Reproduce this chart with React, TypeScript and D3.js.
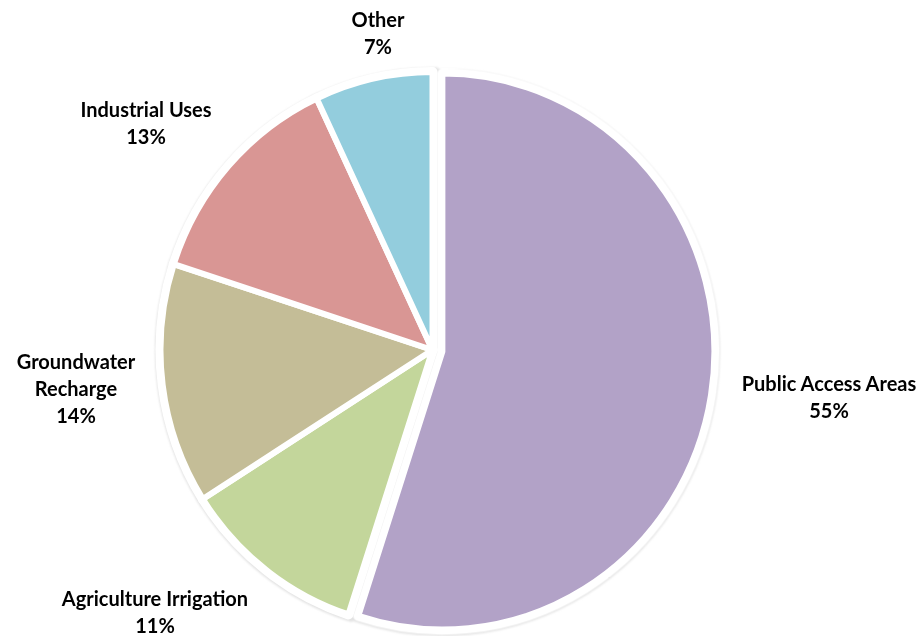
import React from "react";
import * as d3 from "d3";

const categories = ["Public Access Areas", "Agriculture Irrigation", "Groundwater Recharge", "Industrial Uses", "Other"];
const values = [55, 11, 14, 13, 7];
const colors = ["#B2A2C7", "#C3D69B", "#C4BD97", "#D99694", "#93CDDD"];
const exploded = [10, 0, 0, 0, 0];

// label lines and positions (center x, first baseline y)
const labelLines = [
  ["Public Access Areas", "55%"],
  ["Agriculture Irrigation", "11%"],
  ["Groundwater", "Recharge", "14%"],
  ["Industrial Uses", "13%"],
  ["Other", "7%"],
];
const labelPos = [
  [829, 391],
  [155, 606],
  [76, 369],
  [146, 117],
  [378, 27],
];

const W = 924;
const H = 636;
const cx = 432.5;
const cy = 350;
const rx = 272;
const ry = 278;

export default function App() {
  const pie = d3.pie<number>().sort(null).value((d) => d)(values);
  const arc = d3.arc<d3.PieArcDatum<number>>().innerRadius(0).outerRadius(rx);
  const sy = ry / rx;
  const slices = pie.map((p, i) => {
    const mid = (p.startAngle + p.endAngle) / 2;
    const dx = Math.sin(mid) * exploded[i];
    const dy = -Math.cos(mid) * exploded[i];
    return {
      d: arc(p) as string,
      t: `translate(${cx + dx},${cy + dy}) scale(1,${sy})`,
      color: colors[i],
      name: categories[i],
    };
  });
  return (
    <svg width={W} height={H} style={{ position: "absolute", left: 0, top: 0, background: "#fff" }}>
      <defs>
        <filter id="sh" x="-10%" y="-10%" width="120%" height="120%">
          <feGaussianBlur stdDeviation="1.2" />
        </filter>
      </defs>
      <g filter="url(#sh)" transform="translate(0,1)">
        {slices.map((s, i) => (
          <path key={"s" + i} d={s.d} transform={s.t} fill="#e2e2e2" stroke="#e2e2e2" strokeWidth={11} vectorEffect="non-scaling-stroke" />
        ))}
      </g>
      {slices.map((s, i) => (
        <path key={"w" + i} d={s.d} transform={s.t} fill="#fff" stroke="#fff" strokeWidth={10} strokeLinejoin="round" vectorEffect="non-scaling-stroke" />
      ))}
      {slices.map((s, i) => (
        <path key={"f" + i} d={s.d} transform={s.t} fill={s.color} stroke="#fff" strokeWidth={6} strokeLinejoin="round" vectorEffect="non-scaling-stroke" />
      ))}
      {labelLines.map((lines, i) => (
        <text key={"l" + i} x={labelPos[i][0]} y={labelPos[i][1]} textAnchor="middle" fontFamily="Lato, 'Open Sans', sans-serif" fontWeight="bold" fontSize={20} fill="#000">
          {lines.map((ln, j) => (
            <tspan key={j} x={labelPos[i][0]} y={labelPos[i][1] + j * 27}>{ln}</tspan>
          ))}
        </text>
      ))}
    </svg>
  );
}
